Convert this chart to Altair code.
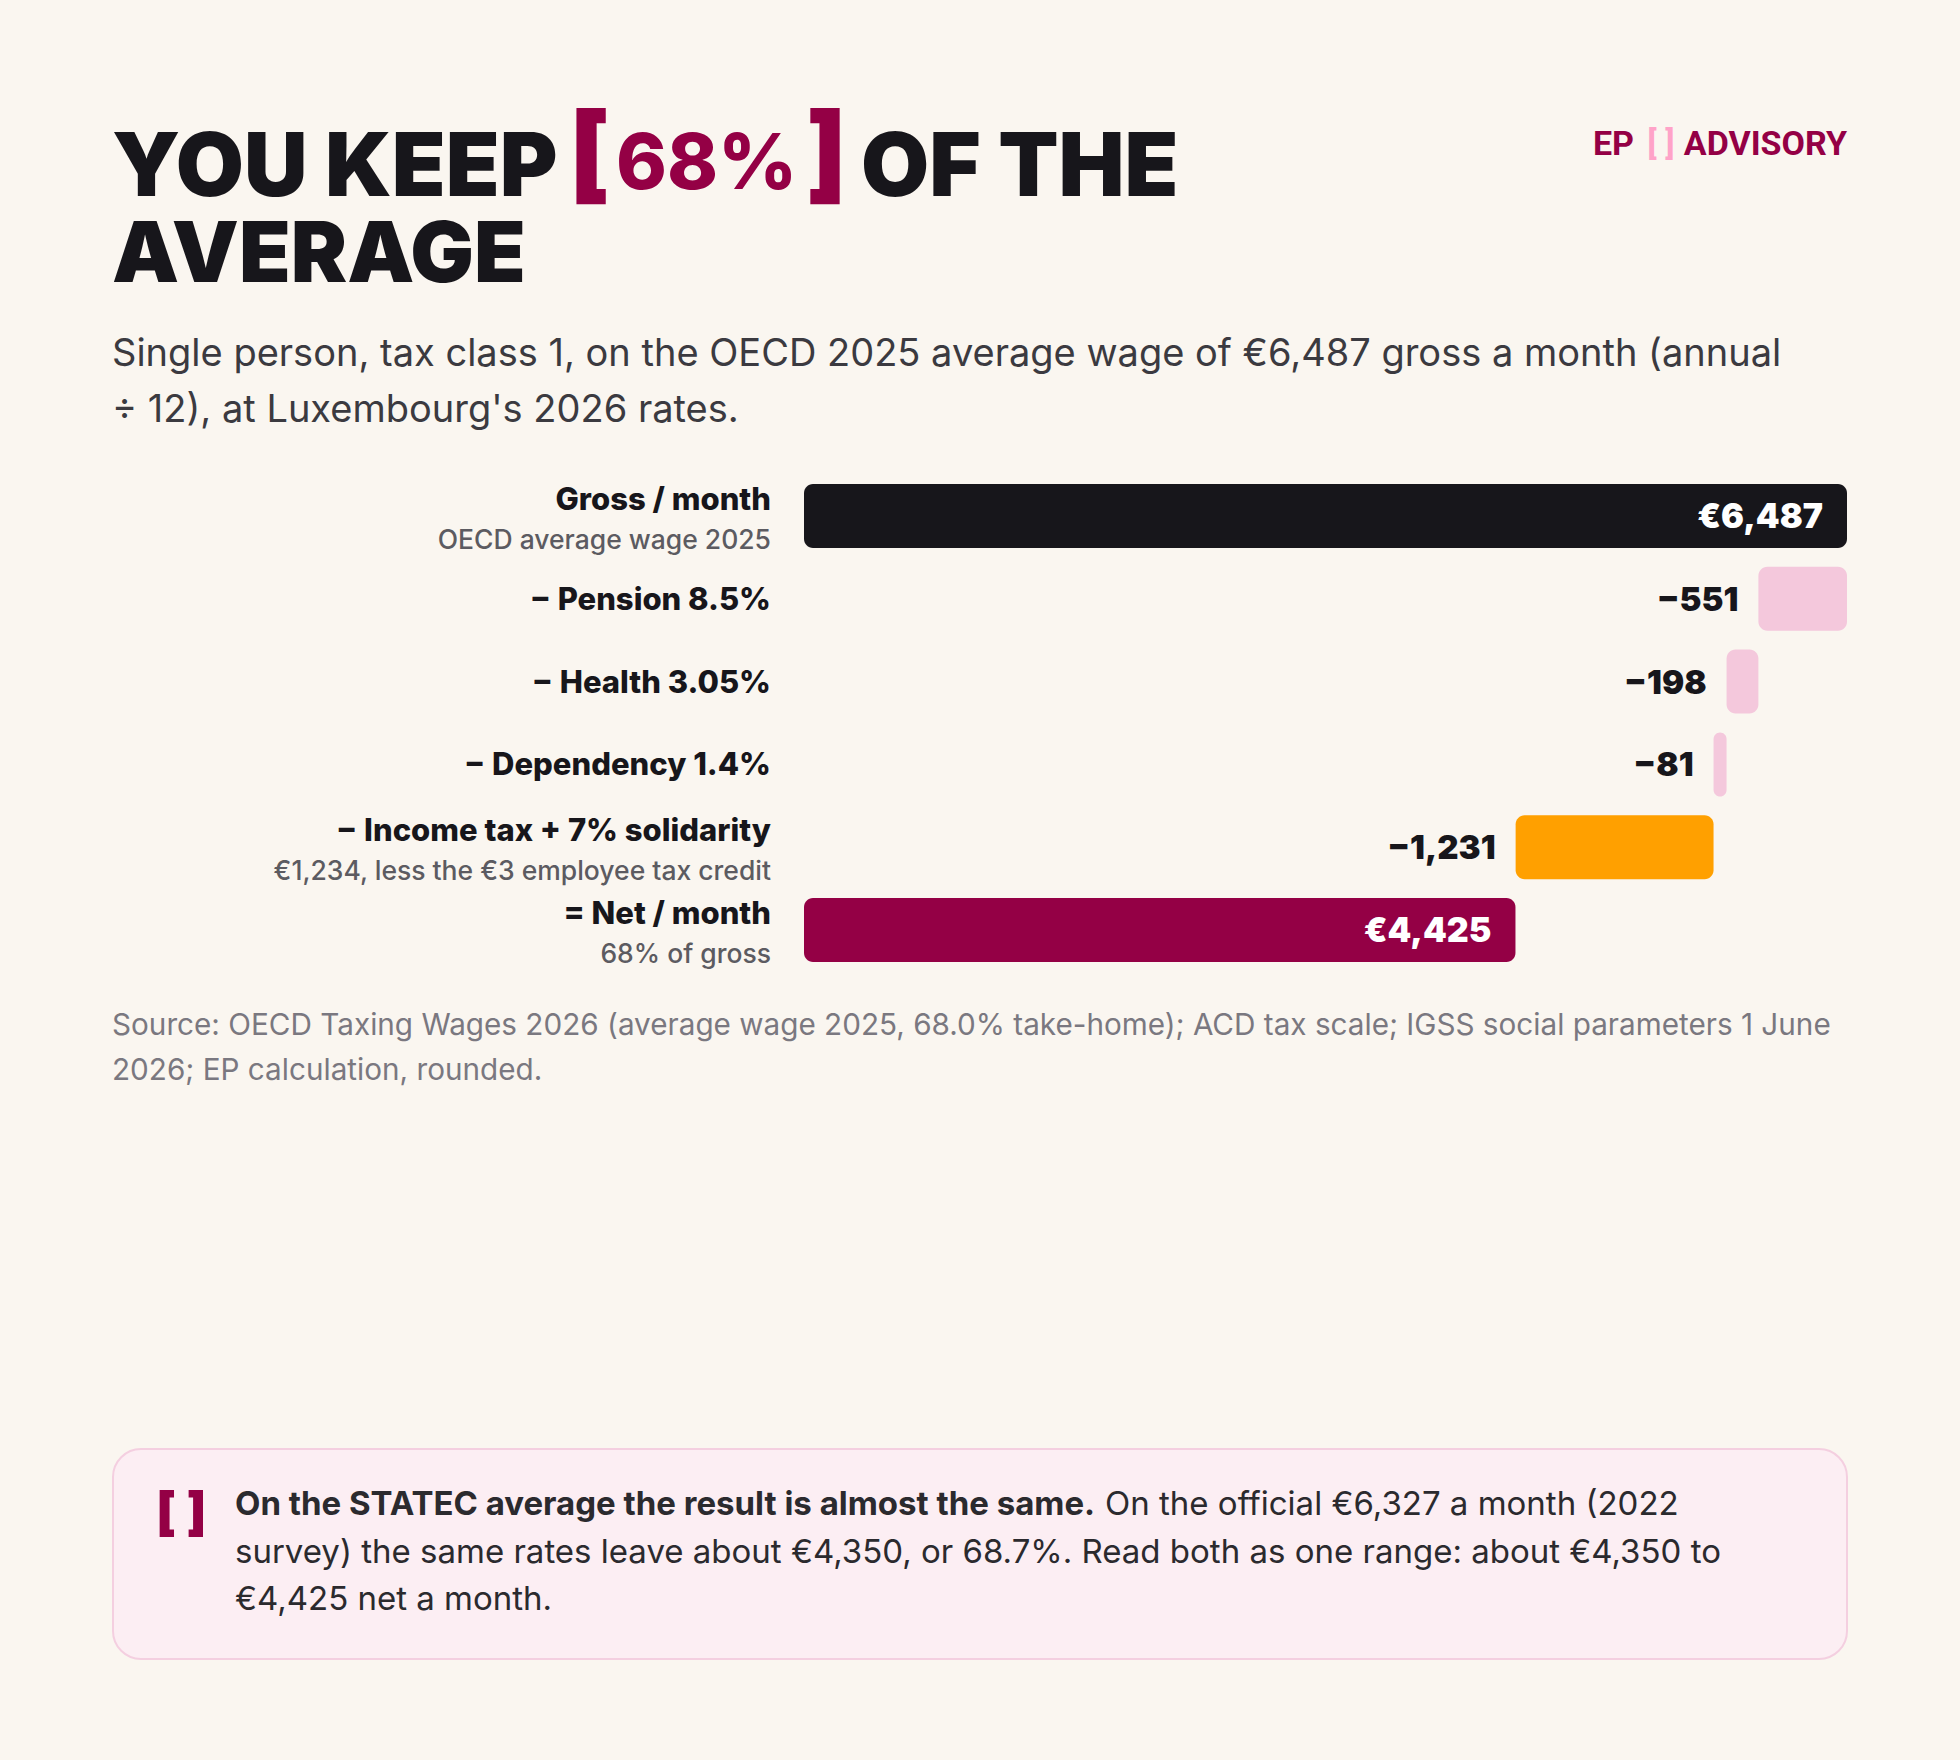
import altair as alt
import pandas as pd

# ---------------- data ----------------
categories = [
    "Gross / month",
    "− Pension 8.5%",
    "− Health 3.05%",
    "− Dependency 1.4%",
    "− Income tax + 7% solidarity",
    "= Net / month",
]
sublabels = [
    "OECD average wage 2025",
    "",
    "",
    "",
    "€1,234, less the €3 employee tax credit",
    "68% of gross",
]
amounts = [6487, 551, 198, 81, 1231, 4425]
kinds = ["gross", "social", "social", "social", "tax", "net"]
value_labels = ["€6,487", "−551", "−198", "−81", "−1,231", "€4,425"]

# waterfall start / end derived from the amounts
starts, ends = [], []
running = 0
for k, a in zip(kinds, amounts):
    if k in ("gross", "net"):
        starts.append(0)
        ends.append(a)
        running = a
    else:
        ends.append(running)
        starts.append(running - a)
        running -= a

df = pd.DataFrame(dict(cat=categories, sub=sublabels, amount=amounts, kind=kinds,
                       vlabel=value_labels, start=starts, end=ends))
df["has_sub"] = df["sub"] != ""
df["is_total"] = df["kind"].isin(["gross", "net"])

one = pd.DataFrame({"a": [0]})

# ---------------- layout constants ----------------
OX, OY = 804, 484          # plot origin on the page
W, H = 1043, 478           # plot area
BG = "#FAF6F0"
DARK = "#17161B"
MAROON = "#940045"
PINK = "#F4C8DC"
ORANGE = "#FFA000"

y_enc = alt.Y("cat:N", sort=categories, axis=None,
              scale=alt.Scale(paddingInner=0.227, paddingOuter=0))
x_scale = alt.Scale(domain=[0, 6487], nice=False, zero=True)

base = alt.Chart(df)

bars = base.mark_bar(cornerRadius=9).encode(
    x=alt.X("start:Q", axis=None, scale=x_scale),
    x2="end:Q",
    y=y_enc,
    color=alt.Color("kind:N", legend=None,
                    scale=alt.Scale(domain=["gross", "social", "tax", "net"],
                                    range=[DARK, PINK, ORANGE, MAROON])),
)

total_labels = base.transform_filter("datum.is_total").mark_text(
    align="right", baseline="alphabetic", dx=-24, dy=12,
    font="Inter", fontSize=34, fontWeight=900, color="white"
).encode(x=alt.X("end:Q", scale=x_scale), y=y_enc, text="vlabel:N")

ded_labels = base.transform_filter("!datum.is_total").mark_text(
    align="right", baseline="alphabetic", dx=-20, dy=12,
    font="Inter", fontSize=33, fontWeight=900, color=DARK
).encode(x=alt.X("start:Q", scale=x_scale), y=y_enc, text="vlabel:N")

LX = 771 - OX
main_single = base.transform_filter("!datum.has_sub").mark_text(
    align="right", baseline="alphabetic", dy=11,
    font="Inter", fontSize=31, fontWeight=800, color=DARK
).encode(x=alt.value(LX), y=y_enc, text="cat:N")

main_double = base.transform_filter("datum.has_sub").mark_text(
    align="right", baseline="alphabetic", dy=-6,
    font="Inter", fontSize=31, fontWeight=800, color=DARK
).encode(x=alt.value(LX), y=y_enc, text="cat:N")

sub_text = base.transform_filter("datum.has_sub").mark_text(
    align="right", baseline="alphabetic", dy=33,
    font="Inter", fontSize=26.5, fontWeight=500, color="#5C5B61"
).encode(x=alt.value(LX), y=y_enc, text="sub:N")


def txt(text, X, Y, size, weight, color, font="Inter", align="left", lh=None):
    kw = dict(text=text, align=align, baseline="alphabetic", font=font,
              fontSize=size, fontWeight=weight, color=color)
    if lh is not None:
        kw["lineHeight"] = lh
    return alt.Chart(one).mark_text(**kw).encode(
        x=alt.value(X - OX), y=alt.value(Y - OY))


# title
t1 = txt("YOU KEEP", 112, 196, 88, 900, DARK)
t_lb = txt("[", 569, 190, 106, 900, MAROON)
t_pct = txt("68%", 616, 189, 77, 800, MAROON)
t_rb = txt("]", 806, 190, 106, 900, MAROON)
t2 = txt("OF THE", 861, 196, 88, 900, DARK)
t3 = txt("AVERAGE", 112, 282, 84.5, 900, DARK)

# logo
l1 = txt("EP", 1634, 155, 34, 700, MAROON, font="Roboto", align="right")
l2 = txt("[ ]", 1661, 155, 34, 700, "#FFA3C8", font="Roboto", align="center")
l3 = txt("ADVISORY", 1847, 155, 34, 700, MAROON, font="Roboto", align="right")

# subtitle
subtitle = txt([
    "Single person, tax class 1, on the OECD 2025 average wage of €6,487 gross a month (annual",
    "÷ 12), at Luxembourg's 2026 rates.",
], 112, 366, 38, 400, "#3B3A40", lh=56)

# source
source = txt([
    "Source: OECD Taxing Wages 2026 (average wage 2025, 68.0% take-home); ACD tax scale; IGSS social parameters 1 June",
    "2026; EP calculation, rounded.",
], 112, 1035, 29.7, 400, "#7A7880", lh=45)

# callout
box = alt.Chart(one).mark_rect(cornerRadius=28, fill="#FCEEF3", stroke="#F4CFE0",
                               strokeWidth=2).encode(
    x=alt.value(113 - OX), x2=alt.value(1847 - OX),
    y=alt.value(1449 - OY), y2=alt.value(1659 - OY))
icon = txt("[ ]", 156, 1530, 52, 900, MAROON)
c_bold = txt("On the STATEC average the result is almost the same.", 235, 1515, 33, 700, "#2B2A2E")
c_reg1 = txt("On the official €6,327 a month (2022", 1105, 1515, 33, 400, "#2B2A2E")
c_rest = txt([
    "survey) the same rates leave about €4,350, or 68.7%. Read both as one range: about €4,350 to",
    "€4,425 net a month.",
], 235, 1562.5, 33, 400, "#2B2A2E", lh=47.5)

chart = alt.layer(
    bars, total_labels, ded_labels, main_single, main_double, sub_text,
    t1, t_lb, t_pct, t_rb, t2, t3, l1, l2, l3, subtitle, source,
    box, icon, c_bold, c_reg1, c_rest,
).properties(
    width=W, height=H,
    autosize=alt.AutoSizeParams(type="none"),
    padding={"left": OX, "top": OY, "right": 1960 - OX - W, "bottom": 1760 - OY - H},
).configure(background=BG).configure_view(stroke=None)

chart.save("out.html", embed_options={"renderer": "svg", "actions": False})
